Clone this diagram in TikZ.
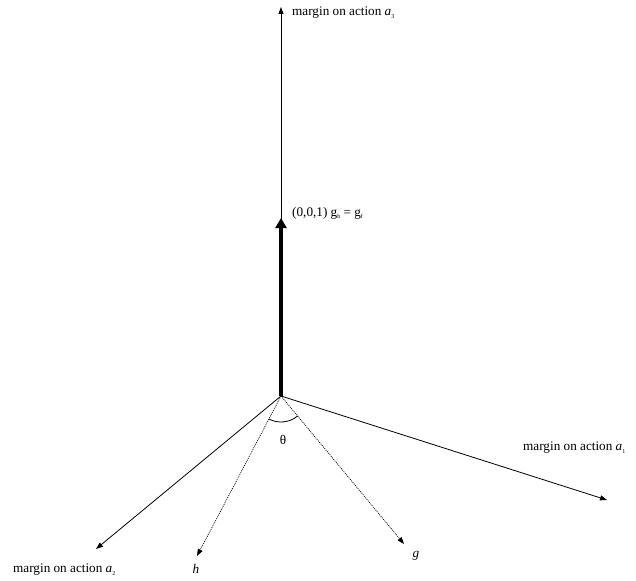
\documentclass[tikz,border=0pt]{standalone}
\usepackage{fontspec}
\setmainfont{Liberation Serif}
\usetikzlibrary{arrows.meta,calc}
\newcommand{\tinysub}[1]{\raisebox{-2.5pt}{\fontsize{6}{7}\selectfont #1}}
\tikzset{
  thinarrow/.style={line width=0.8pt,-{Triangle[length=7pt,width=5pt]}},
  dotarrow/.style={line width=0.7pt,dash pattern=on 1pt off 1pt,-{Triangle[length=7pt,width=5pt]}},
  thickarrow/.style={line width=3.2pt,-{Triangle[length=10pt,width=11pt]}},
  lbl/.style={inner sep=0pt,font=\fontsize{13.2}{15}\selectfont}
}
\begin{document}
\begin{tikzpicture}[x=1pt,y=-1pt]
\useasboundingbox (0,0) rectangle (636,580);
\coordinate (O) at (281,396);
\coordinate (top) at (281,7);
\coordinate (gb) at (281,218);
\coordinate (a1) at (607,500);
\coordinate (a2) at (96,549);
\coordinate (h) at (197,556);
\coordinate (g) at (404,544);
\draw[thinarrow] (O) -- (top);
\draw[thickarrow] (O) -- (gb);
\draw[thinarrow] (O) -- (a1);
\draw[thinarrow] (O) -- (a2);
\draw[dotarrow] (O) -- (h);
\draw[dotarrow] (O) -- (g);
\draw[line width=0.8pt] ($(O)+(117.7:26)$) arc[start angle=117.7,end angle=50.3,radius=26];
\node[lbl,anchor=west] (la3) at (292,13) {margin on action \textit{a}\tinysub{3}};
\node[lbl,anchor=west] (lgb) at (292,213) {(0,0,1) g\tinysub{b} = g\tinysub{f}};
\node[lbl,anchor=west] (la1) at (523,448) {margin on action \textit{a}\tinysub{1}};
\node[lbl,anchor=west] (la2) at (13,570) {margin on action \textit{a}\tinysub{2}};
\node[lbl] (lh) at (196,569) {\textit{h}};
\node[lbl] (lg) at (416,556) {\textit{g}};
\node[lbl] (lth) at (283,440) {θ};
\end{tikzpicture}
\end{document}
